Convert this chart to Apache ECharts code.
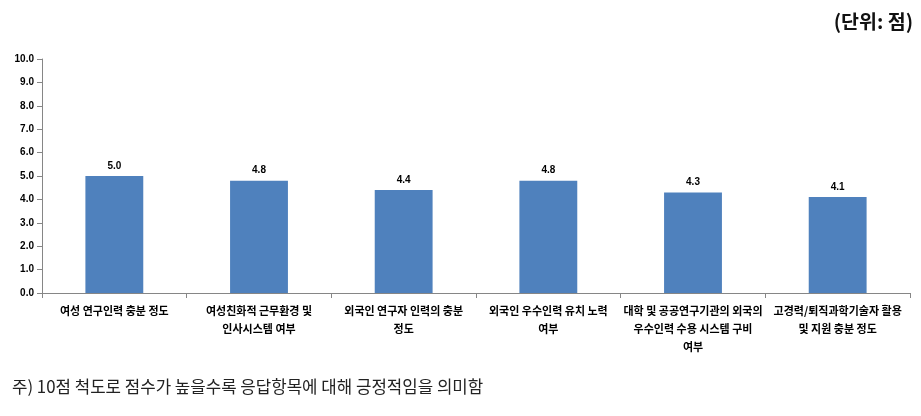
<!DOCTYPE html>
<html><head><meta charset="utf-8">
<script src="https://cdn.jsdelivr.net/npm/echarts@6/dist/echarts.min.js"></script>
<style>html,body{margin:0;padding:0;background:#fff}#c{width:921px;height:416px}</style>
</head><body><div id="c"></div>
<script>
var categories = [
  "여성 연구인력 충분 정도",
  "여성친화적 근무환경 및\n인사시스템 여부",
  "외국인 연구자 인력의 충분\n정도",
  "외국인 우수인력 유치 노력\n여부",
  "대학 및 공공연구기관의 외국의\n우수인력 수용 시스템 구비\n여부",
  "고경력/퇴직과학기술자 활용\n및 지원 충분 정도"
];
var scores = [5.0, 4.8, 4.4, 4.8, 4.3, 4.1];
var yTicks = [0, 10, 1];
var unitText = "(단위: 점)";
var noteText = "주) 10점 척도로 점수가 높을수록 응답항목에 대해 긍정적임을 의미함";

var font = "'Noto Sans CJK KR', 'Noto Sans', sans-serif";
var chart = echarts.init(document.getElementById('c'));
chart.setOption({
  animation: false,
  textStyle: {fontFamily: font},
  title: [
    {text: unitText, right: 3, top: 7, textStyle: {fontFamily: font, fontSize: 19.5, fontWeight: 'bold', color: '#111'}},
    {text: noteText, left: 7, top: 373, textStyle: {fontFamily: font, fontSize: 16.8, fontWeight: 'normal', color: '#222'}}
  ],
  grid: {left: 42, right: 11, top: 59, bottom: 123, containLabel: false},
  xAxis: {
    type: 'category', data: categories,
    axisLine: {lineStyle: {color: '#868686'}},
    axisTick: {show: true, alignWithLabel: false, length: 5, lineStyle: {color: '#868686'}},
    axisLabel: {interval: 0, color: '#000', fontSize: 11, fontWeight: 'bold', lineHeight: 18, margin: 9, fontFamily: font}
  },
  yAxis: {
    type: 'value', min: yTicks[0], max: yTicks[1], interval: yTicks[2],
    splitLine: {show: false},
    axisLine: {show: true, lineStyle: {color: '#868686'}},
    axisTick: {show: true, length: 5, lineStyle: {color: '#868686'}},
    axisLabel: {color: '#000', fontSize: 10, fontWeight: 'bold', margin: 8, fontFamily: 'Liberation Sans, sans-serif',
      formatter: function(v){return v.toFixed(1);}}
  },
  series: [{
    type: 'bar', data: scores, barWidth: '40%',
    itemStyle: {color: '#4F81BD'},
    label: {show: true, position: 'top', distance: 5, color: '#000', fontSize: 10, fontWeight: 'bold',
      fontFamily: 'Liberation Sans, sans-serif', formatter: function(p){return p.value.toFixed(1);}}
  }]
});
</script></body></html>
